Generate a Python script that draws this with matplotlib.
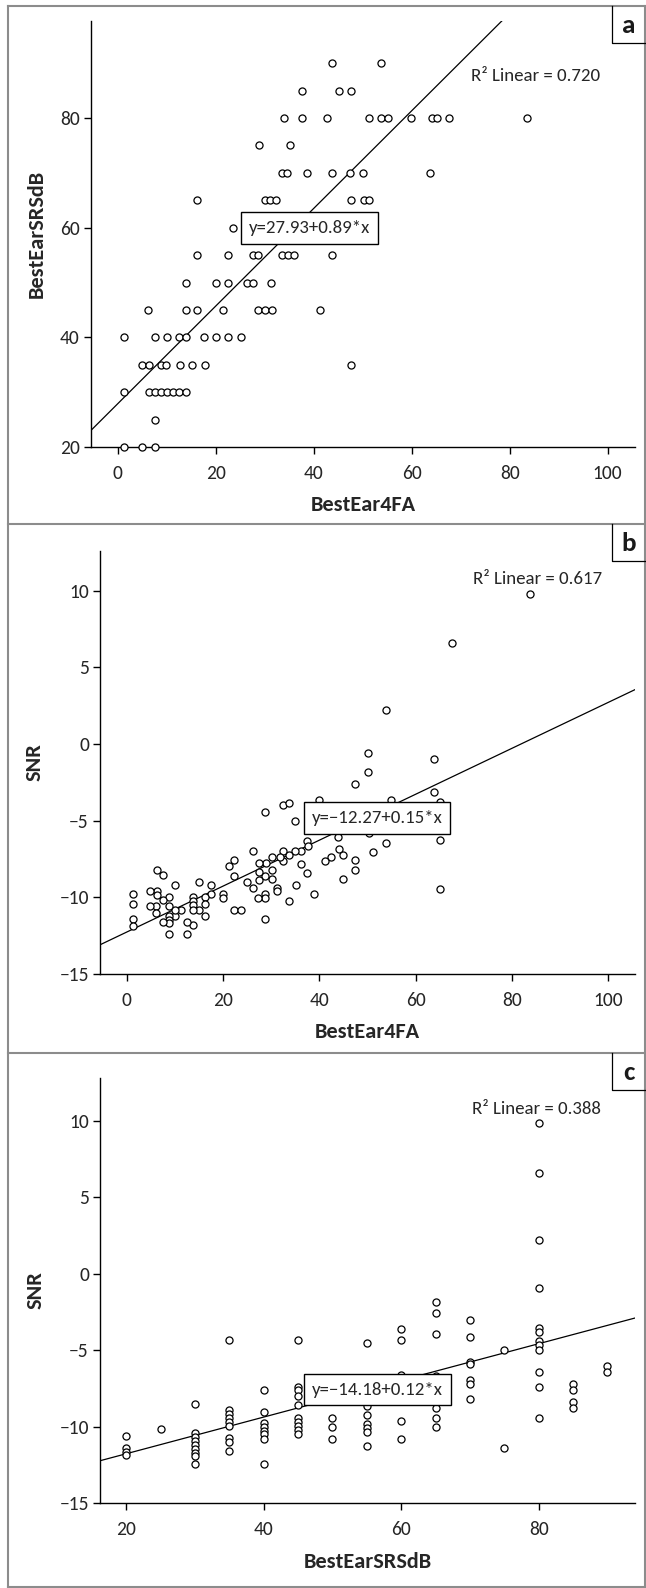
import matplotlib
matplotlib.use('Agg')
import matplotlib.pyplot as plt
from matplotlib import font_manager
from matplotlib.lines import Line2D

_names = {f.name for f in font_manager.fontManager.ttflist}
if 'Carlito' in _names:
    FAM, SCALE = 'Carlito', 1.28
else:
    FAM, SCALE = 'Lato', 1.0
plt.rcParams['font.family'] = [FAM, 'DejaVu Sans']
plt.rcParams['axes.unicode_minus'] = True

# ---------------- data ----------------
# Panel a: BestEar4FA (x) vs BestEarSRSdB (y)
a_x = [43.8, 53.8,
       37.6, 45.2, 47.7,
       33.9, 37.6, 42.6, 51.2, 53.8, 55.1, 59.9, 64.1, 65.2, 67.6, 83.5,
       28.9, 35.2,
       33.5, 34.6, 38.7, 43.8, 47.4, 50.0, 63.7,
       16.2, 30.0, 31.1, 32.2, 47.5, 50.3, 51.2,
       23.6,
       16.2, 22.5, 27.5, 28.7, 33.6, 34.8, 36.0, 43.7,
       13.9, 20.0, 22.5, 26.3, 27.6, 31.3,
       6.1, 13.9, 16.2, 21.4, 28.7, 30.1, 31.5, 41.3,
       1.3, 7.5, 10.1, 12.5, 14.0, 17.5, 20.0, 22.5, 25.2,
       5.0, 6.4, 8.7, 9.9, 12.7, 15.1, 17.7, 47.5,
       1.3, 6.3, 7.5, 8.8, 10.1, 11.3, 12.5, 13.9,
       7.5,
       1.3, 5.0, 7.5]
a_y = [90, 90,
       85, 85, 85,
       80, 80, 80, 80, 80, 80, 80, 80, 80, 80, 80,
       75, 75,
       70, 70, 70, 70, 70, 70, 70,
       65, 65, 65, 65, 65, 65, 65,
       60,
       55, 55, 55, 55, 55, 55, 55, 55,
       50, 50, 50, 50, 50, 50,
       45, 45, 45, 45, 45, 45, 45, 45,
       40, 40, 40, 40, 40, 40, 40, 40, 40,
       35, 35, 35, 35, 35, 35, 35, 35,
       30, 30, 30, 30, 30, 30, 30, 30,
       25,
       20, 20, 20]

# Panel b: BestEar4FA (x) vs SNR (y)
b_x = [83.8, 67.6, 53.8, 50.0, 63.8, 50.0, 47.5, 63.8, 28.8, 32.5, 33.8, 35.0,
       40.0, 54.8, 65.1, 65.1, 53.9, 50.3, 51.2, 43.8, 44.0, 45.0, 47.5, 47.5,
       44.9, 42.5, 41.2, 37.5, 37.7, 36.2, 37.4, 35.1, 38.8, 33.7, 36.3, 35.0,
       33.8, 32.5, 32.5, 31.8, 30.1, 30.1, 30.1, 28.8, 28.9, 27.4, 27.4, 27.4,
       26.3, 26.3, 24.9, 31.3, 31.3, 28.8, 28.8, 27.3, 28.8, 22.4, 21.2, 22.4,
       22.4, 23.7, 20.0, 20.0, 17.5, 17.5, 16.2, 16.2, 16.2, 15.0, 15.0, 13.8,
       13.8, 13.8, 13.8, 13.8, 12.5, 12.6, 11.4, 10.0, 10.0, 10.0, 8.8, 8.8,
       8.8, 8.8, 8.8, 8.8, 7.5, 7.5, 7.5, 6.3, 6.3, 6.3, 6.1, 6.1, 4.9, 4.9,
       1.3, 1.3, 1.3, 1.3, 65.0]
b_y = [9.8, 6.6, 2.2, -0.6, -1.0, -1.8, -2.6, -3.1, -4.46, -3.98, -3.87, -5.02,
       -3.65, -3.63, -3.78, -6.26, -6.43, -5.83, -7.04, -6.04, -6.83, -7.22, -7.59, -8.2,
       -8.78, -7.39, -7.63, -6.3, -6.67, -7.8, -8.43, -9.22, -9.8, -10.26, -7.0, -7.0,
       -7.26, -7.0, -7.61, -7.39, -7.39, -8.2, -8.8, -8.59, -7.76, -7.76, -8.35, -8.85,
       -7.0, -9.39, -9.0, -9.39, -9.57, -9.78, -10.07, -10.04, -11.41, -7.59, -7.98, -8.59,
       -10.8, -10.8, -9.76, -10.07, -9.22, -9.78, -9.98, -10.43, -11.24, -9.0, -10.8, -9.98,
       -10.26, -10.52, -10.8, -11.83, -11.6, -12.39, -10.8, -11.2, -10.8, -9.2, -9.98, -10.59,
       -11.2, -11.46, -11.67, -12.39, -10.15, -11.6, -8.52, -8.2, -9.61, -9.83, -10.59, -11.04, -9.61, -10.59,
       -9.8, -10.41, -11.39, -11.87, -9.43]

# Panel c: BestEarSRSdB (x) vs SNR (y)
c_x = [20, 20, 20, 20,
       25,
       30, 30, 30, 30, 30, 30, 30, 30, 30,
       35, 35, 35, 35, 35, 35, 35, 35, 35,
       40, 40, 40, 40, 40, 40, 40, 40,
       45, 45, 45, 45, 45, 45, 45, 45, 45, 45,
       50, 50, 50,
       55, 55, 55, 55, 55, 55, 55,
       60, 60, 60, 60, 60, 60,
       65, 65, 65, 65, 65, 65, 65,
       70, 70, 70, 70, 70, 70, 70,
       75, 75,
       80, 80, 80, 80, 80, 80, 80, 80, 80, 80, 80, 80,
       85, 85, 85, 85,
       90, 90]
c_y = [-10.62, -11.43, -11.65, -11.89,
       -10.19,
       -8.54, -10.45, -10.7, -10.95, -11.2, -11.45, -11.7, -11.94, -12.44,
       -4.34, -8.94, -9.2, -9.46, -9.7, -9.97, -10.73, -11.02, -11.63,
       -7.63, -9.03, -9.79, -10.03, -10.3, -10.51, -10.8, -12.44,
       -4.34, -7.39, -7.6, -8.0, -8.61, -9.46, -9.7, -9.97, -10.23, -10.47,
       -9.46, -10.03, -10.8,
       -4.56, -8.65, -9.24, -9.86, -10.08, -10.34, -11.28,
       -3.62, -4.37, -6.64, -8.2, -9.64, -10.84,
       -1.83, -2.59, -3.95, -6.7, -8.81, -9.46, -10.01,
       -3.01, -4.17, -5.77, -5.94, -6.97, -7.19, -8.22,
       -5.0, -11.39,
       9.83, 6.6, 2.2, -0.95, -3.56, -3.8, -4.39, -4.65, -4.98, -6.4, -7.39, -9.42,
       -7.23, -7.6, -8.37, -8.76,
       -6.03, -6.42]

# Fit lines (intercept, slope) and annotation texts
fit_a = (27.93, 0.89)
fit_b = (-12.27, 0.15)
fit_c = (-14.18, 0.12)
eq_labels = ['y=27.93+0.89*x', 'y=\u221212.27+0.15*x', 'y=\u221214.18+0.12*x']
r2_labels = ['R\u00b2 Linear = 0.720', 'R\u00b2 Linear = 0.617', 'R\u00b2 Linear = 0.388']
panel_letters = ['a', 'b', 'c']
x_labels = ['BestEar4FA', 'BestEar4FA', 'BestEarSRSdB']
y_labels = ['BestEarSRSdB', 'SNR', 'SNR']
a_xticks = [0, 20, 40, 60, 80, 100]
a_yticks = [20, 40, 60, 80]
b_xticks = [0, 20, 40, 60, 80, 100]
b_yticks = [-15, -10, -5, 0, 5, 10]
c_xticks = [20, 40, 60, 80]
c_yticks = [-15, -10, -5, 0, 5, 10]

# ---------------- figure ----------------
W, H = 646, 1588
fig = plt.figure(figsize=(W / 100, H / 100), dpi=100)


def fx(px):
    return px / W


def fy(py):
    return 1 - py / H


TXT = '#262626'
FS_TICK = 11.0 * SCALE
FS_ANN = 10.6 * SCALE
FS_LAB = 12.5 * SCALE

# axes rectangles in pixels: left, top, right, bottom
rects = [(91, 21, 635, 447), (100, 551, 635, 974), (100, 1078, 635, 1503)]
xlims = [(-5.5, 105.6), (-5.5, 105.5), (16.2, 94.0)]
ylims = [(20, 97.7), (-15, 12.6), (-15, 12.8)]
datas = [(a_x, a_y), (b_x, b_y), (c_x, c_y)]
fits = [fit_a, fit_b, fit_c]
xticks = [a_xticks, b_xticks, c_xticks]
yticks = [a_yticks, b_yticks, c_yticks]
eq_pos = [(39.1, 60.0), (52.0, -4.83), (56.6, -7.58)]
r2_pos = [(72.2, 87.7), (71.8, 10.76), (70.3, 10.8)]
xlabel_y = [505, 1032, 1562]
ylabel_x = [37, 35, 36]

for i in range(3):
    l, t, r, b = rects[i]
    ax = fig.add_axes([fx(l), fy(b), fx(r) - fx(l), fy(t) - fy(b)])
    ax.set_xlim(*xlims[i])
    ax.set_ylim(*ylims[i])
    for s in ['top', 'right']:
        ax.spines[s].set_visible(False)
    for s in ['left', 'bottom']:
        ax.spines[s].set_linewidth(1.0)
        ax.spines[s].set_color('black')
    ax.set_xticks(xticks[i])
    ax.set_yticks(yticks[i])
    ax.tick_params(axis='both', direction='out', length=5, width=1.0,
                   labelsize=FS_TICK, labelcolor=TXT, color='black')
    ax.tick_params(axis='x', pad=8)
    ax.tick_params(axis='y', pad=3)
    xs, ys = datas[i]
    ax.scatter(xs, ys, s=26, facecolors='white', edgecolors='black',
               linewidths=0.9, zorder=3, clip_on=False)
    b0, m = fits[i]
    ax.axline((0, b0), slope=m, color='black', lw=0.9, zorder=2)
    ax.text(eq_pos[i][0], eq_pos[i][1], eq_labels[i], ha='center', va='center',
            fontsize=FS_ANN, color=TXT, zorder=5,
            bbox=dict(boxstyle='square,pad=0.42', fc='white', ec='black', lw=1.0))
    ax.text(r2_pos[i][0], r2_pos[i][1], r2_labels[i], ha='left', va='center',
            fontsize=FS_ANN, color=TXT, zorder=5)
    # axis labels
    fig.text(fx((l + r) / 2), fy(xlabel_y[i]), x_labels[i], ha='center', va='center',
             fontsize=FS_LAB, fontweight='bold', color=TXT)
    fig.text(fx(ylabel_x[i]), fy((t + b) / 2), y_labels[i], ha='center', va='center',
             rotation=90, fontsize=FS_LAB, fontweight='bold', color=TXT)

# outer frame and separators
GR = '#8c8c8c'
frame_lines = [
    ([8, 645], [6, 6]), ([8, 645], [1587, 1587]),
    ([8, 8], [6, 1587]), ([645, 645], [6, 1587]),
    ([8, 645], [524, 524]), ([8, 645], [1053, 1053]),
]
for xs_, ys_ in frame_lines:
    fig.add_artist(Line2D([fx(v) for v in xs_], [fy(v) for v in ys_],
                          color=GR, lw=1.5))

# panel letter boxes
box_tops = [6, 524, 1053]
for i, letter in enumerate(panel_letters):
    top = box_tops[i]
    bot = top + 37
    fig.add_artist(Line2D([fx(612), fx(612), fx(645)], [fy(top), fy(bot), fy(bot)],
                          color='black', lw=0.9))
    fig.text(fx(629), fy((top + bot) / 2 + 1), letter, ha='center', va='center',
             fontsize=17 * (1.15 if SCALE > 1 else 1.0), fontweight='bold',
             color='#1a1a1a')

fig.savefig('out.png', dpi=100, facecolor='white')
